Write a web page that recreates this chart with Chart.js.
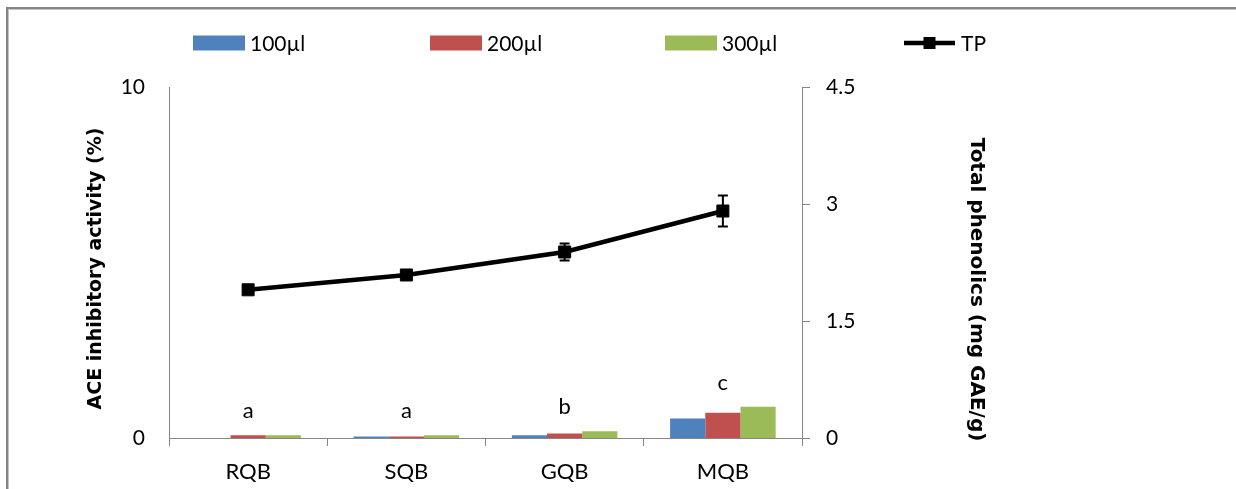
<!DOCTYPE html>
<html><head><meta charset="utf-8">
<script src="https://cdn.jsdelivr.net/npm/chart.js@4.4.1/dist/chart.umd.min.js"></script>
<style>
html,body{margin:0;padding:0;background:#fff;overflow:hidden;}
#wrap{position:relative;width:1236px;height:489px;overflow:hidden;}
#frame{position:absolute;left:6px;top:7px;width:1400px;height:700px;border-top:2px solid #858585;border-left:2px solid #858585;box-shadow:inset 1px 1px 0 #c4c4c4;}
canvas{position:absolute;left:0;top:0;}
</style></head><body>
<div id="wrap"><div id="frame"></div><canvas id="c" width="1236" height="489"></canvas></div>
<script>
// ---- data ----
const categories = ['RQB', 'SQB', 'GQB', 'MQB'];
const ace100 = [0, 0.04, 0.08, 0.555];
const ace200 = [0.08, 0.04, 0.13, 0.72];
const ace300 = [0.08, 0.08, 0.19, 0.89];
const tp = [1.9, 2.09, 2.385, 2.91];
const tpErr = [0.05, 0.06, 0.11, 0.2];
const groupLetters = ['a', 'a', 'b', 'c'];
const leftTicks = [0, 10];
const rightTicks = [0, 1.5, 3, 4.5];
const seriesNames = ['100\u00b5l', '200\u00b5l', '300\u00b5l', 'TP'];
const leftTitle = 'ACE inhibitory activity (%)';
const rightTitle = 'Total phenolics (mg GAE/g)';

const C_BLUE = '#4F81BD', C_RED = '#C0504D', C_GREEN = '#9BBB59', C_LINE = '#000000';
const AXIS = '#868686';
const TICK_FONT = {family: 'Lato', size: 21};

const errorBars = {
  id: 'errorBars',
  afterDatasetsDraw(chart) {
    const meta = chart.getDatasetMeta(3);
    const y1 = chart.scales.y1;
    const ctx = chart.ctx;
    ctx.save();
    ctx.strokeStyle = C_LINE;
    ctx.lineWidth = 2;
    meta.data.forEach((pt, i) => {
      const x = pt.x;
      const yt = y1.getPixelForValue(tp[i] + tpErr[i]);
      const yb = y1.getPixelForValue(tp[i] - tpErr[i]);
      ctx.beginPath();
      ctx.moveTo(x, yt); ctx.lineTo(x, yb);
      ctx.moveTo(x - 5, yt); ctx.lineTo(x + 5, yt);
      ctx.moveTo(x - 5, yb); ctx.lineTo(x + 5, yb);
      ctx.stroke();
    });
    ctx.restore();
  }
};

const letters = {
  id: 'letters',
  afterDatasetsDraw(chart) {
    const ctx = chart.ctx, xs = chart.scales.x, ys = chart.scales.y;
    ctx.save();
    ctx.fillStyle = '#000';
    ctx.font = '22px Lato';
    ctx.textAlign = 'center';
    ctx.textBaseline = 'alphabetic';
    groupLetters.forEach((t, i) => {
      const top = Math.max(ace100[i], ace200[i], ace300[i]);
      ctx.fillText(t, xs.getPixelForValue(i), ys.getPixelForValue(top) - 17);
    });
    ctx.restore();
  }
};

const titlesAndLegend = {
  id: 'titlesAndLegend',
  afterDraw(chart) {
    const ctx = chart.ctx, a = chart.chartArea;
    ctx.save();
    ctx.fillStyle = '#000';
    ctx.font = 'bold 19px "DejaVu Sans"';
    ctx.textAlign = 'center';
    ctx.textBaseline = 'middle';
    ctx.save();
    ctx.translate(a.left - 73, (a.top + a.bottom) / 2 + 6);
    ctx.rotate(-Math.PI / 2);
    ctx.fillText(leftTitle, 0, 0);
    ctx.restore();
    ctx.font = 'bold 20px "DejaVu Sans"';
    ctx.save();
    ctx.translate(a.right + 174, (a.top + a.bottom) / 2 + 27);
    ctx.rotate(Math.PI / 2);
    ctx.fillText(rightTitle, 0, 0);
    ctx.restore();

    // legend
    const ly = 43;
    const starts = [193, 430, 665, 904];
    const colors = [C_BLUE, C_RED, C_GREEN];
    ctx.font = '21px Lato';
    ctx.textAlign = 'left';
    starts.forEach((x0, i) => {
      if (i < 3) {
        ctx.fillStyle = colors[i];
        ctx.fillRect(x0, ly - 7.5, 52, 15);
      } else {
        ctx.strokeStyle = C_LINE;
        ctx.lineWidth = 4.5;
        ctx.beginPath(); ctx.moveTo(x0, ly); ctx.lineTo(x0 + 51, ly); ctx.stroke();
        ctx.fillStyle = C_LINE;
        ctx.fillRect(x0 + 25.5 - 6, ly - 6, 12, 12);
      }
      ctx.fillStyle = '#000';
      ctx.fillText(seriesNames[i], x0 + 57, ly + 1);
    });
    ctx.restore();
  }
};

new Chart(document.getElementById('c'), {
  data: {
    labels: categories,
    datasets: [
      {type: 'bar', label: seriesNames[0], data: ace100, backgroundColor: C_BLUE, yAxisID: 'y', order: 2, categoryPercentage: 0.667, barPercentage: 1.0, borderWidth: 0},
      {type: 'bar', label: seriesNames[1], data: ace200, backgroundColor: C_RED, yAxisID: 'y', order: 2, categoryPercentage: 0.667, barPercentage: 1.0, borderWidth: 0},
      {type: 'bar', label: seriesNames[2], data: ace300, backgroundColor: C_GREEN, yAxisID: 'y', order: 2, categoryPercentage: 0.667, barPercentage: 1.0, borderWidth: 0},
      {type: 'line', label: seriesNames[3], data: tp, yAxisID: 'y1', order: 1, borderColor: C_LINE, borderWidth: 4.5, tension: 0,
       pointStyle: 'rect', pointRadius: 8.5, pointBackgroundColor: C_LINE, pointBorderColor: C_LINE, pointBorderWidth: 1}
    ]
  },
  options: {
    responsive: false,
    animation: false,
    devicePixelRatio: 1,
    layout: {padding: {top: 87, left: 0, right: 0, bottom: 0}},
    plugins: {legend: {display: false}, tooltip: {enabled: false}},
    scales: {
      x: {
        offset: true,
        grid: {display: true, drawOnChartArea: false, drawTicks: true, tickLength: 8, color: AXIS, offset: true},
        border: {display: true, color: AXIS, width: 1},
        ticks: {font: {family: 'Lato', size: 22}, color: '#000', padding: 13, maxRotation: 0},
        afterFit(s) { s.height = 51; }
      },
      y: {
        position: 'left', min: 0, max: 10,
        grid: {display: false, drawTicks: false},
        border: {display: true, color: AXIS, width: 1},
        ticks: {font: TICK_FONT, color: '#000', padding: 24},
        afterBuildTicks(s) { s.ticks = leftTicks.map(v => ({value: v})); },
        afterFit(s) { s.width = 169; }
      },
      y1: {
        position: 'right', min: 0, max: 4.5,
        grid: {display: true, drawOnChartArea: false, drawTicks: true, tickLength: 8, color: AXIS},
        border: {display: true, color: AXIS, width: 1},
        ticks: {font: TICK_FONT, color: '#000', padding: 16},
        afterBuildTicks(s) { s.ticks = rightTicks.map(v => ({value: v})); },
        afterFit(s) { s.width = 434; }
      }
    }
  },
  plugins: [errorBars, letters, titlesAndLegend]
});
</script>
</body></html>
